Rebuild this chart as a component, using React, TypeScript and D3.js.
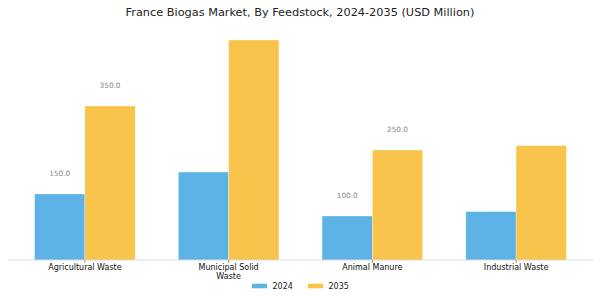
import React from "react";
import * as d3 from "d3";

const categories = ["Agricultural Waste", "Municipal Solid\nWaste", "Animal Manure", "Industrial Waste"];
const years = ["2024", "2035"];
const values2024 = [150, 200, 100, 110];
const values2035 = [350, 500, 250, 260];
// Categories whose bars carry value annotations
const annotated = [true, false, true, false];

const colors = ["#5DB3E6", "#F9C44B"];

const W = 600;
const H = 300;
const margin = { left: 8, right: 7, top: 29, bottom: 40 };
const FONT = "DejaVu Sans, sans-serif";

export default function App() {
  const series = [values2024, values2035];
  const barW = 0.35;
  const x = d3
    .scaleLinear()
    .domain([-barW - 0.185, categories.length - 1 + barW + 0.185])
    .range([margin.left, W - margin.right]);
  const maxV = d3.max(series.flat()) as number;
  const y = d3
    .scaleLinear()
    .domain([0, maxV * 1.05])
    .range([H - margin.bottom, margin.top]);
  const base = y(0);

  return (
    <svg
      width={W}
      height={H}
      style={{ position: "absolute", left: 0, top: 0, background: "#fff" }}
      fontFamily={FONT}
    >
      <text x={W / 2} y={15.5} textAnchor="middle" fontSize={11.3} fill="#222">
        France Biogas Market, By Feedstock, 2024-2035 (USD Million)
      </text>

      {series.map((vals, si) =>
        vals.map((v, ci) => {
          const x0 = x(ci + (si === 0 ? -barW : 0));
          const x1 = x(ci + (si === 0 ? 0 : barW));
          return (
            <rect
              key={`b${si}-${ci}`}
              x={x0}
              y={y(v)}
              width={x1 - x0}
              height={base - y(v)}
              fill={colors[si]}
              stroke="#fff"
              strokeOpacity={0.5}
              strokeWidth={0.6}
            />
          );
        })
      )}

      {series.map((vals, si) =>
        vals.map((v, ci) =>
          annotated[ci] ? (
            <text
              key={`l${si}-${ci}`}
              x={x(ci + (si === 0 ? -barW / 2 : barW / 2))}
              y={y(v) - 18}
              textAnchor="middle"
              fontSize={7.3}
              fill="#888"
            >
              {v.toFixed(1)}
            </text>
          ) : null
        )
      )}

      <line x1={margin.left} x2={W - margin.right} y1={base} y2={base} stroke="#d0d0d0" strokeWidth={0.8} />
      {categories.map((c, ci) => (
        <g key={`t${ci}`} transform={`translate(${x(ci)},${base})`}>
          <line y1={0} y2={3} stroke="#555" strokeWidth={0.6} />
          {c.split("\n").map((line, li) => (
            <text key={li} y={10 + li * 8.5} textAnchor="middle" fontSize={8} fill="#111">
              {line}
            </text>
          ))}
        </g>
      ))}

      {years.map((yr, i) => {
        const lx = 252 + i * 56;
        return (
          <g key={yr}>
            <rect x={lx} y={283.7} width={15} height={4.6} fill={colors[i]} />
            <text x={lx + 20.5} y={288.5} fontSize={8} fill="#222">
              {yr}
            </text>
          </g>
        );
      })}
    </svg>
  );
}
